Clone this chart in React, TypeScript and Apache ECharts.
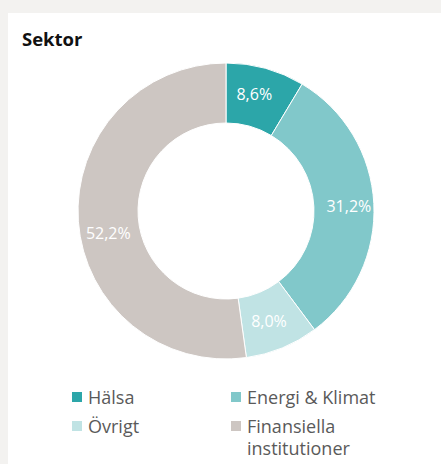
import React, { useEffect, useRef } from "react";
import * as echarts from "echarts";

const categories = ["Hälsa", "Energi & Klimat", "Övrigt", "Finansiella institutioner"];
const shares = [8.6, 31.2, 8.0, 52.2];
const colors = ["#2ca6a9", "#81c8ca", "#c0e3e4", "#cdc6c2"];
const titleText = "Sektor";
// small label nudges (px) relative to ECharts' default inside position
const labelNudges = [[-4, 0], [2, 1], [-3, -2], [3, 14]];

const FONT = "'Open Sans', 'Noto Sans', sans-serif";
const LEGEND_COLOR = "#5a5a5a";

export default function App() {
  const ref = useRef<HTMLDivElement>(null);
  useEffect(() => {
    if (!ref.current) return;
    const chart = echarts.init(ref.current, undefined, { renderer: "svg" });
    const textStyle = { fontSize: 18, lineHeight: 22, color: LEGEND_COLOR, fontFamily: FONT };
    const legendBase = {
      orient: "vertical",
      padding: 0,
      itemWidth: 12,
      itemHeight: 12,
      icon: "rect",
      selectedMode: false,
      textStyle,
    };
    chart.setOption({
      animation: false,
      title: {
        text: titleText,
        left: 22,
        top: 29,
        padding: 0,
        textStyle: { fontSize: 18.5, fontWeight: "bold", color: "#111111", fontFamily: FONT, lineHeight: 18 },
      },
      legend: [
        { ...legendBase, left: 70, top: 386, data: [categories[0]] },
        { ...legendBase, left: 70, top: 415, data: [categories[2]] },
        { ...legendBase, left: 229, top: 386, data: [categories[1]] },
        {
          ...legendBase,
          left: 229,
          top: 393,
          data: [categories[3]],
          textStyle: {
            ...textStyle,
            rich: {
              p: { fontSize: 18, lineHeight: 22, fontFamily: FONT },
              t: { ...textStyle },
            },
          },
          formatter: (n: string) =>
            "{p| }\n" + n.split(" ").map((w) => "{t|" + w + "}").join("\n"),
        },
      ],
      series: [
        {
          type: "pie",
          center: [226, 211],
          radius: [88, 148],
          startAngle: 90,
          clockwise: true,
          avoidLabelOverlap: false,
          itemStyle: { borderColor: "#ffffff", borderWidth: 1 },
          label: {
            show: true,
            position: "inside",
            color: "#ffffff",
            fontSize: 16,
            fontFamily: FONT,
            formatter: (p: any) => p.value.toFixed(1).replace(".", ",") + "%",
          },
          labelLayout: (p: any) => ({ dx: labelNudges[p.dataIndex][0], dy: labelNudges[p.dataIndex][1] }),
          labelLine: { show: false },
          emphasis: { disabled: true },
          data: categories.map((c, i) => ({ name: c, value: shares[i], itemStyle: { color: colors[i] } })),
        },
      ],
    });
    return () => chart.dispose();
  }, []);
  return (
    <div style={{ position: "fixed", left: 0, top: 0, width: 441, height: 464, background: "#f3f2f0" }}>
      <div style={{ position: "absolute", left: 8, top: 13, right: 0, bottom: 0, background: "#ffffff" }} />
      <div ref={ref} style={{ position: "absolute", left: 0, top: 0, width: 441, height: 464 }} />
    </div>
  );
}
